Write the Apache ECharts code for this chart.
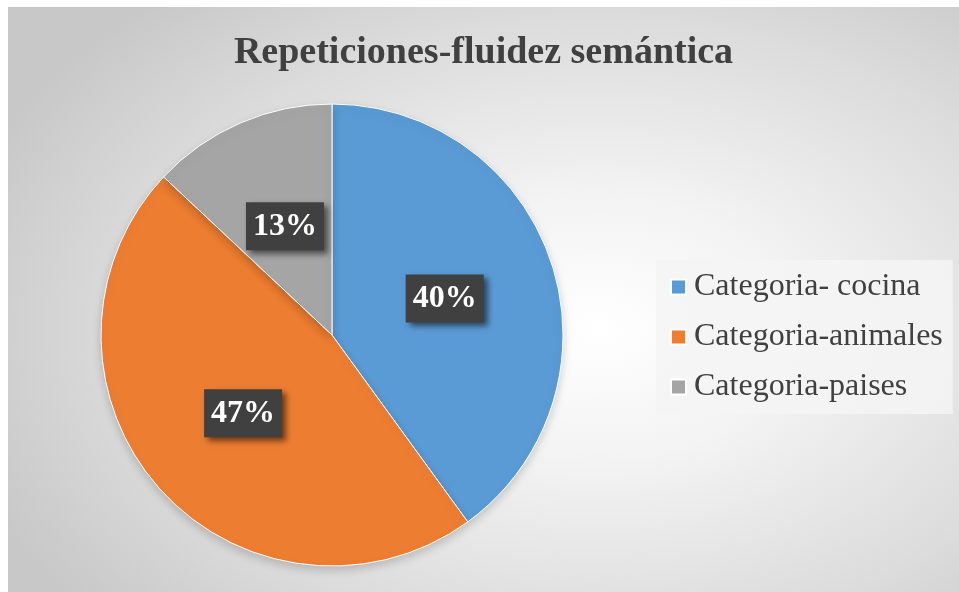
<!DOCTYPE html>
<html>
<head>
<meta charset="utf-8">
<script src="https://cdn.jsdelivr.net/npm/echarts@6/dist/echarts.min.js"></script>
<style>
  html, body { margin: 0; padding: 0; background: #ffffff; }
  #wrap { position: absolute; left: 0; top: 0; width: 959px; height: 592px; background: #ffffff; }
  #chart {
    position: absolute; left: 8px; top: 7px; width: 951px; height: 585px;
    background: radial-gradient(ellipse 70% 75% at 62% 55%, #ffffff 0%, #f3f3f3 30%, #dcdcdc 70%, #c8c8c8 100%);
  }
</style>
</head>
<body>
<div id="wrap"><div id="chart"></div></div>
<script>
// Share of repetitions per semantic-fluency category
const categories = ['Categoria- cocina', 'Categoria-animales', 'Categoria-paises'];
const values = [40, 47, 13];
const colors = ['#5B9BD5', '#ED7D31', '#A5A5A5'];

const chart = echarts.init(document.getElementById('chart'), null, { renderer: 'canvas' });

const serif = '"Liberation Serif", "Times New Roman", serif';

chart.setOption({
  animation: false,
  title: {
    text: 'Repeticiones-fluidez semántica',
    left: 'center',
    top: 22,
    textStyle: { fontFamily: serif, fontWeight: 'bold', fontSize: 38, color: '#404040' }
  },
  legend: {
    orient: 'vertical',
    left: 648,
    top: 253,
    padding: [11, 10, 11, 14],
    backgroundColor: 'rgba(245,245,245,0.85)',
    icon: 'rect',
    itemWidth: 15,
    itemHeight: 15,
    itemGap: 18,
    data: categories,
    textStyle: { fontFamily: serif, fontSize: 32, lineHeight: 32, color: '#404040', padding: [0, 0, 0, 3] }
  },
  color: colors,
  series: [{
    type: 'pie',
    center: [324, 328],
    radius: 231,
    startAngle: 90,
    clockwise: true,
    data: categories.map((name, i) => ({ name, value: values[i] })),
    itemStyle: {
      borderColor: '#ffffff',
      borderWidth: 1,
      shadowBlur: 10,
      shadowColor: 'rgba(0,0,0,0.18)',
      shadowOffsetY: 4
    },
    label: {
      show: true,
      position: 'inside',
      formatter: p => Math.round(p.percent) + '%',
      fontFamily: serif,
      fontWeight: 'bold',
      fontSize: 32,
      color: '#ffffff',
      backgroundColor: '#404040',
      padding: [9, 7, 7, 7],
      shadowColor: 'rgba(0,0,0,0.55)',
      shadowBlur: 6,
      shadowOffsetX: 4,
      shadowOffsetY: 4
    },
    labelLine: { show: false },
    emphasis: { disabled: true }
  }]
});
</script>
</body>
</html>
